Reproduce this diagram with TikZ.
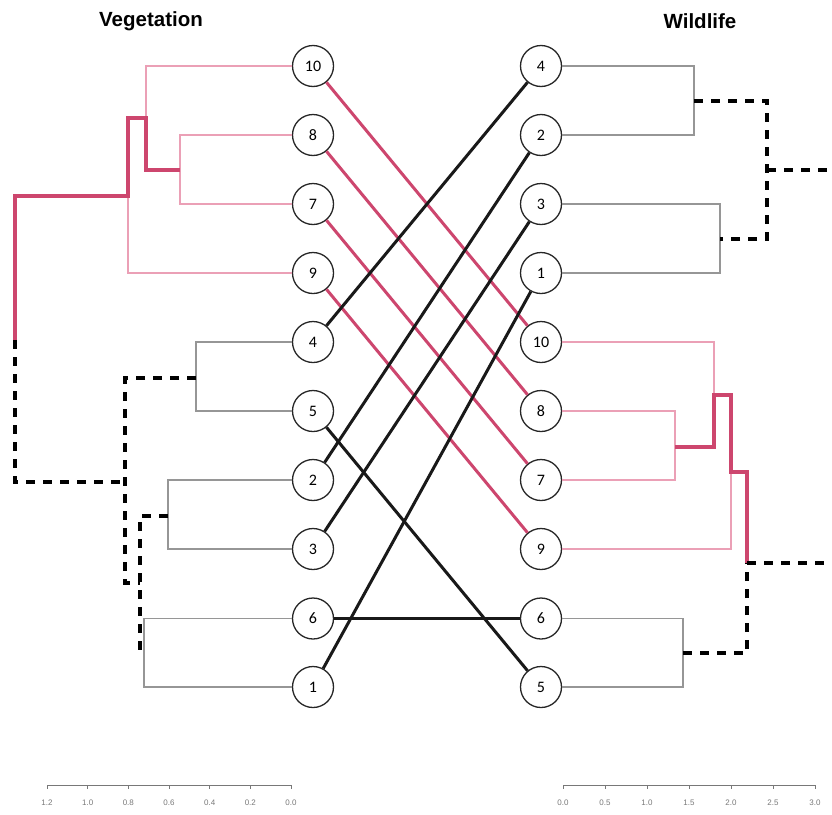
\documentclass[tikz,border=0pt]{standalone}
\usepackage{fontspec}
\newfontfamily\numfont{Carlito}
\newfontfamily\titlefont{Liberation Sans}
\definecolor{pinkthick}{RGB}{205,70,110}
\definecolor{pinkthin}{RGB}{235,160,182}
\definecolor{dgray}{RGB}{150,150,150}
\definecolor{axgray}{RGB}{120,120,120}
\tikzset{
  leaf/.style={circle,draw=black!85,line width=1.3pt,fill=white,minimum size=41pt,inner sep=0pt,font=\numfont\fontsize{16}{16}\selectfont},
  ttl/.style={font=\titlefont\bfseries\fontsize{20.5}{20.5}\selectfont},
  thinpink/.style={draw=pinkthin,line width=1.1pt},
  thickpink/.style={draw=pinkthick,line width=4pt,line join=miter},
  thingray/.style={draw=dgray,line width=1.1pt},
  dashblk/.style={draw=black,line width=3.6pt,dash pattern=on 9pt off 8pt},
  conpink/.style={draw=pinkthick,line width=3pt},
  conblk/.style={draw=black!90,line width=3pt},
  axline/.style={draw=axgray,line width=0.8pt},
  axlab/.style={text=axgray,font=\titlefont\fontsize{8}{8}\selectfont}
}
\begin{document}
\begin{tikzpicture}[x=1pt,y=-1pt]
\useasboundingbox (0,0) rectangle (832,814);
% titles
\node[ttl] (tv) at (151,21) {Vegetation};
\node[ttl] (tw) at (700,21) {Wildlife};
% left leaves
\node[leaf] (L10) at (313,66) {10};
\node[leaf] (L8) at (313,135) {8};
\node[leaf] (L7) at (313,204) {7};
\node[leaf] (L9) at (313,273) {9};
\node[leaf] (L4) at (313,342) {4};
\node[leaf] (L5) at (313,411) {5};
\node[leaf] (L2) at (313,480) {2};
\node[leaf] (L3) at (313,549) {3};
\node[leaf] (L6) at (313,618.5) {6};
\node[leaf] (L1) at (313,687) {1};
% right leaves
\node[leaf] (R4) at (541,66) {4};
\node[leaf] (R2) at (541,135) {2};
\node[leaf] (R3) at (541,204) {3};
\node[leaf] (R1) at (541,273) {1};
\node[leaf] (R10) at (541,342) {10};
\node[leaf] (R8) at (541,411) {8};
\node[leaf] (R7) at (541,480) {7};
\node[leaf] (R9) at (541,549) {9};
\node[leaf] (R6) at (541,618.5) {6};
\node[leaf] (R5) at (541,687) {5};
% left dendrogram
\draw[thinpink] (L10.west) -- (146,66) -- (146,118);
\draw[thinpink] (L8.west) -- (180,135) -- (180,204) -- (L7.west);
\draw[thinpink] (L9.west) -- (128,273) -- (128,196);
\draw[thingray] (L4.west) -- (196,342) -- (196,411) -- (L5.west);
\draw[thingray] (L2.west) -- (168,480) -- (168,549) -- (L3.west);
\draw[thingray] (L6.west) -- (144,618.5) -- (144,687) -- (L1.west);
\draw[thickpink] (180,170) -- (146,170) -- (146,118) -- (128,118) -- (128,196) -- (15,196) -- (15,340);
\draw[dashblk] (15,340) -- (15,482) -- (125,482);
\draw[dashblk] (196,378) -- (125,378) -- (125,583) -- (140,583);
\draw[dashblk] (168,516) -- (140,516) -- (140,653);
% right dendrogram
\draw[thingray] (R4.east) -- (694,66) -- (694,135) -- (R2.east);
\draw[thingray] (R3.east) -- (720,204) -- (720,273) -- (R1.east);
\draw[thingray] (R6.east) -- (683,618.5) -- (683,687) -- (R5.east);
\draw[thinpink] (R10.east) -- (714,342) -- (714,395);
\draw[thinpink] (R8.east) -- (675,411) -- (675,480) -- (R7.east);
\draw[thinpink] (R9.east) -- (731,549) -- (731,472);
\draw[thickpink] (675,447) -- (714,447) -- (714,395) -- (731,395) -- (731,472) -- (747,472) -- (747,563);
\draw[dashblk] (694,101) -- (767,101) -- (767,239) -- (720,239);
\draw[dashblk] (767,170) -- (832,170);
\draw[dashblk] (747,563) -- (832,563);
\draw[dashblk] (683,653) -- (747,653) -- (747,563);
% connectors
\draw[conpink] (L10) -- (R10);
\draw[conpink] (L8) -- (R8);
\draw[conpink] (L7) -- (R7);
\draw[conpink] (L9) -- (R9);
\draw[conblk] (L4) -- (R4);
\draw[conblk] (L5) -- (R5);
\draw[conblk] (L2) -- (R2);
\draw[conblk] (L3) -- (R3);
\draw[conblk] (L6) -- (R6);
\draw[conblk] (L1) -- (R1);
% left axis
\draw[axline] (47,785) -- (291,785);
\foreach \v [count=\i from 0] in {1.2,1.0,0.8,0.6,0.4,0.2,0.0} {
  \draw[axline] ({47+\i*40.67},785) -- ({47+\i*40.67},789);
  \node[axlab] at ({47+\i*40.67},803) {\v};
}
% right axis
\draw[axline] (563,785) -- (815,785);
\foreach \v [count=\i from 0] in {0.0,0.5,1.0,1.5,2.0,2.5,3.0} {
  \draw[axline] ({563+\i*42},785) -- ({563+\i*42},789);
  \node[axlab] at ({563+\i*42},803) {\v};
}
\end{tikzpicture}
\end{document}
